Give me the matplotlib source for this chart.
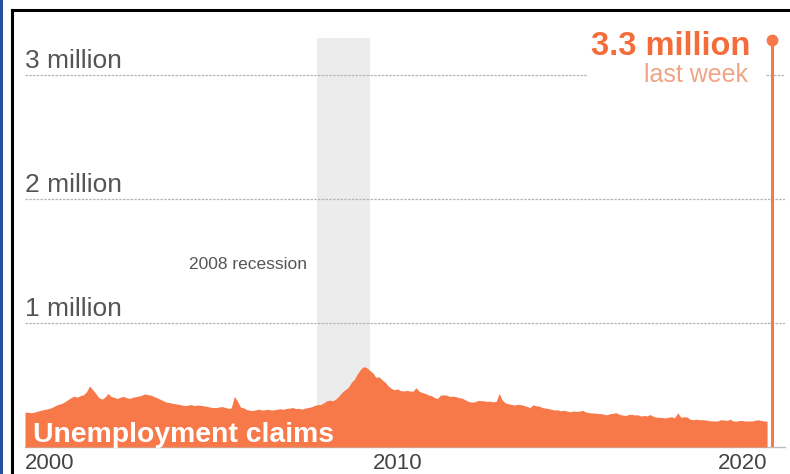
import numpy as np
import pandas as pd
import matplotlib
matplotlib.use("Agg")
import matplotlib.pyplot as plt
from matplotlib.lines import Line2D
from matplotlib.patches import Rectangle

plt.rcParams['font.family'] = ['Liberation Sans', 'DejaVu Sans']

# Weekly unemployment claims (thousands)
claims_k = [
    # 2000
    282, 280, 276, 281, 288, 295, 301, 306, 312, 322, 336, 345,
    # 2001
    352, 366, 382, 398, 410, 402, 414, 421, 446, 492, 462, 432,
    # 2002
    398, 386, 402, 432, 408, 401, 391, 402, 408, 398, 392, 401,
    # 2003
    406, 412, 418, 428, 422, 418, 406, 396, 384, 372, 362, 358,
    # 2004
    352, 348, 344, 338, 334, 338, 342, 334, 338, 336, 332, 328,
    # 2005
    322, 318, 318, 322, 326, 320, 312, 314, 408, 372, 322, 316,
    # 2006
    302, 296, 294, 300, 305, 298, 300, 304, 298, 300, 306, 308,
    # 2007
    304, 312, 314, 318, 310, 312, 306, 314, 318, 324, 334, 342,
    # 2008
    342, 356, 372, 378, 372, 388, 412, 442, 462, 482, 522, 548,
    # 2009
    592, 628, 648, 640, 618, 598, 562, 566, 542, 522, 492, 472,
    # 2010
    462, 468, 455, 452, 456, 452, 448, 478, 450, 440, 432, 420,
    # 2011
    414, 398, 392, 418, 420, 418, 408, 410, 406, 398, 394, 380,
    # 2012
    368, 362, 364, 374, 374, 372, 368, 370, 364, 368, 432, 378,
    # 2013
    356, 348, 344, 338, 344, 342, 336, 328, 318, 340, 332, 330,
    # 2014
    318, 314, 310, 304, 298, 300, 292, 296, 290, 284, 290, 288,
    # 2015
    288, 296, 284, 278, 274, 274, 270, 270, 264, 260, 268, 272,
    # 2016
    276, 264, 258, 254, 262, 264, 258, 260, 250, 254, 250, 262,
    # 2017
    248, 240, 240, 238, 234, 240, 244, 236, 276, 240, 244, 242,
    # 2018
    224, 220, 224, 220, 220, 218, 214, 210, 210, 210, 220, 218,
    # 2019
    214, 224, 210, 208, 214, 214, 208, 210, 210, 214, 220, 214,
    # 2020
    210, 208,
]
months = pd.date_range('2000-01-01', periods=len(claims_k), freq='MS')

last_week_date = pd.Timestamp('2020-03-21')
last_week_claims_k = 3283

recession_start = pd.Timestamp('2007-12-01')
recession_end = pd.Timestamp('2009-05-01')

grid_values = [1, 2, 3]
grid_labels = ['1 million', '2 million', '3 million']
year_ticks = [2000, 2010, 2020]


def dec_year(ts):
    ts = pd.DatetimeIndex(np.atleast_1d(ts))
    return np.asarray(ts.year + (ts.dayofyear - 1) / 365.25)


ORANGE = '#f7794a'
ORANGE_TEXT = '#f36c3a'
SALMON = '#f0a485'

fig = plt.figure(figsize=(7.9, 4.74), dpi=100)
W, H = 790, 474
ax = fig.add_axes([25 / W, 27 / H, 760 / W, 409.2 / H])
ax.set_xlim(2000, 2020.57)
ax.set_ylim(0, 3.3)
ax.axis('off')

x = dec_year(months)
y = np.array(claims_k) / 1000

# recession shading
ax.axvspan(dec_year(recession_start)[0], dec_year(recession_end)[0],
           color='#ececec', lw=0, zorder=0)

# gridlines
xmax = ax.get_xlim()[1]
grid_kw = dict(color='#b5b5b5', lw=0.9, ls=(0, (2, 1)), zorder=1)
for v in grid_values:
    if v == 3:
        ax.plot([2000, 2015.2], [v, v], **grid_kw)
        ax.plot([2020.05, xmax], [v, v], **grid_kw)
    else:
        ax.plot([2000, xmax], [v, v], **grid_kw)
for v, lab in zip(grid_values, grid_labels):
    ax.text(2000, v + 0.055, lab, fontsize=19, color='#555555',
            ha='left', va='baseline')

# baseline
ax.plot([2000, xmax], [0, 0], color='#bcbcbc', lw=1, zorder=1, clip_on=False)

# area
ax.fill_between(x, 0, y, color=ORANGE, lw=0, zorder=2)

# last week spike
lx = dec_year(last_week_date)[0]
ly = last_week_claims_k / 1000
ax.plot([lx, lx], [0, ly], color=ORANGE, lw=2.2, zorder=3, solid_capstyle='butt')
ax.plot([lx], [ly], 'o', color=ORANGE, ms=7.5, zorder=4, clip_on=False)

ax.text(2019.63, 3.16, '3.3 million', fontsize=23.5, fontweight='bold',
        color=ORANGE_TEXT, ha='right', va='baseline')
ax.text(2019.57, 2.94, 'last week', fontsize=18, color=SALMON,
        ha='right', va='baseline')

ax.text(2004.45, 1.47, '2008 recession', fontsize=12.5, color='#555555',
        ha='left', va='center')

ax.text(2000.22, 0.04, 'Unemployment claims', fontsize=20.4, fontweight='bold',
        color='white', ha='left', va='baseline', zorder=5)

# year labels
for yr in year_ticks:
    ha = {2000: 'left', 2010: 'center', 2020: 'right'}[yr]
    xpos = {2000: 2000, 2010: 2010.1, 2020: 2020.1}[yr]
    ax.text(xpos, -0.045, str(yr), fontsize=16, color='#444444',
            ha=ha, va='top', clip_on=False)

# screenshot frame
fig.add_artist(Rectangle((0, 0), 3 / W, 1, transform=fig.transFigure,
                         color='#2b4fa0', lw=0))
fig.add_artist(Line2D([12 / W, 12 / W], [0, 1 - 10 / H], transform=fig.transFigure,
                      color='black', lw=2.2))
fig.add_artist(Line2D([12 / W, 1], [1 - 10 / H, 1 - 10 / H], transform=fig.transFigure,
                      color='black', lw=2.2))

fig.savefig('out.png', dpi=100)
